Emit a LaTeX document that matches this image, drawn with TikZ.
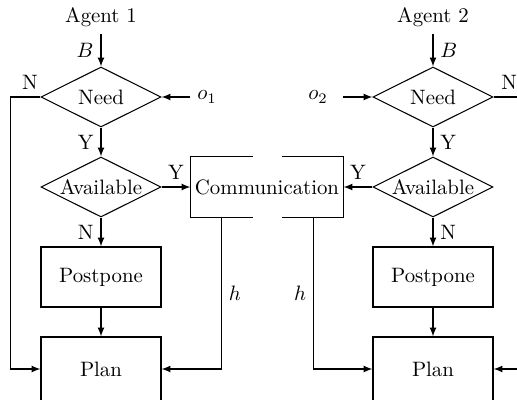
\documentclass[tikz,border=0pt]{standalone}
\usepackage{amsmath}
\usepackage{tikz}
\usetikzlibrary{shapes.geometric}

\newlength\pxu
\setlength\pxu{0.48pt}

\begin{document}
\begin{tikzpicture}[x=\pxu,y=-\pxu,>=latex,line width=0.5pt,
		decision/.style={diamond, draw, inner sep=0pt, minimum width=120\pxu, minimum height=60\pxu, aspect=2},
		block/.style={rectangle, draw, minimum width=120\pxu, minimum height=60\pxu},
		plan/.style={minimum height=64\pxu}]
		% Frame of the picture
		\useasboundingbox (0,0) rectangle (517,400);
		\clip (0,0) rectangle (517,400);
		
		% Agent 1 column
		\node (agent1) at (101,17) {Agent 1};
		\node[decision] (need1) at (101,97) {Need};
		\node[decision] (avail1) at (101,187) {Available};
		\node[block] (post1) at (101,277) {Postpone};
		\node[block,plan] (plan1) at (101,369) {Plan};
		\node (o1) at (207,97) {$o_1$};
		
		% Agent 2 column
		\node (agent2) at (433,17) {Agent 2};
		\node[decision] (need2) at (433,97) {Need};
		\node[decision] (avail2) at (433,187) {Available};
		\node[block] (post2) at (433,277) {Postpone};
		\node[block,plan] (plan2) at (433,369) {Plan};
		\node[inner xsep=15\pxu] (o2) at (318,97) {$o_2$};
		\coordinate (nout2) at (525,97);
		\coordinate (pin2) at (525,369);
		
		% Shared communication box, open at top and bottom
		\node[inner xsep=0pt, minimum width=152\pxu, minimum height=60\pxu] (comm) at (267,187) {Communication};
		\draw ([xshift=-14\pxu]comm.north) -| (comm.south west) -- ([xshift=-14\pxu]comm.south);
		\draw ([xshift=15\pxu]comm.north) -| (comm.south east) -- ([xshift=15\pxu]comm.south);
		\coordinate (h1) at ([xshift=31\pxu]comm.south west);
		\coordinate (h2) at ([xshift=-30\pxu]comm.south east);
		
		% Connectors of agent 1
		\draw[->] (agent1) -- node[left] {$B$} (need1);
		\draw[->] (o1) -- (need1.east);
		\draw[->] (need1) -- node[left] {Y} (avail1);
		\draw[->] (need1.west) -- node[above, pos=0.35] {N} ++(-30,0) |- (plan1.west);
		\draw[->] (avail1.east) -- node[above] {Y} (comm.west);
		\draw[->] (avail1) -- node[left] {N} (post1);
		\draw[->] (post1) -- (plan1);
		\draw[->] (h1) |- node[pos=0.25, right] {$h$} (plan1.east);
		
		% Connectors of agent 2
		\draw[->] (agent2) -- node[right] {$B$} (need2);
		\draw[->] (o2) -- (need2.west);
		\draw[->] (need2) -- node[right] {Y} (avail2);
		\draw (need2.east) -- node[above] {N} (nout2);
		\draw[->] (avail2.west) -- node[above] {Y} (comm.east);
		\draw[->] (avail2) -- node[right] {N} (post2);
		\draw[->] (post2) -- (plan2);
		\draw[->] (h2) |- node[pos=0.25, left] {$h$} (plan2.west);
		\draw[->] (pin2) -- (plan2.east);
	\end{tikzpicture}
\end{document}
